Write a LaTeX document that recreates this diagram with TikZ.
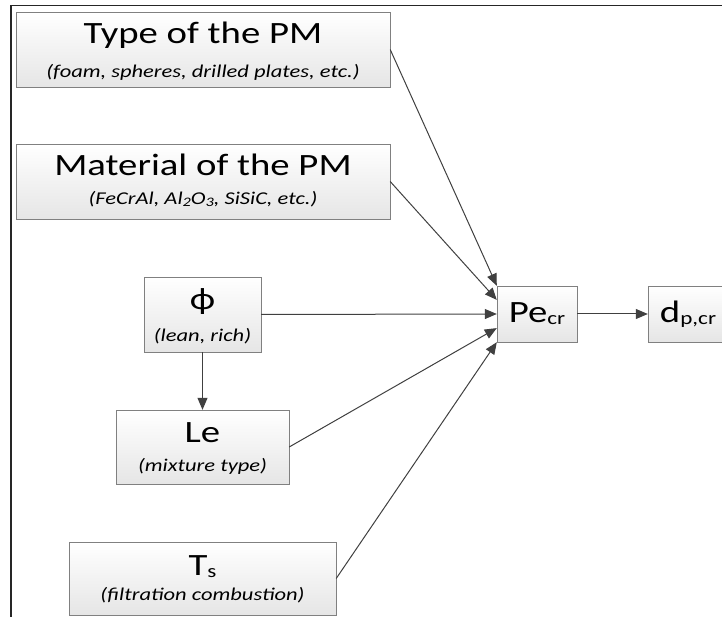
\documentclass[tikz,border=0pt]{standalone}
\usepackage{graphicx}
\usepackage{fontspec}
\setmainfont{Carlito}
\usetikzlibrary{calc}
\usetikzlibrary{arrows.meta}

\lineskiplimit=-100pt
\tikzset{
  box/.style={draw=black!50, top color=white, bottom color=black!10, inner sep=0pt,
    align=center, font=\fontsize{31}{#1}\selectfont},
  box/.default=34,
  link/.style={draw=black!75, line width=1pt, -{Triangle[length=12pt,width=10pt]}},
}
\newcommand\wide[1]{\scalebox{1.25}[1]{#1}}
\newcommand\subtxt[1]{\wide{\fontsize{18}{20}\selectfont\itshape #1}}
\newcommand\lowidx[1]{\raisebox{-2pt}{\fontsize{18.5}{20}\selectfont #1}}
\newcommand\chemidx[1]{\raisebox{-1.5pt}{\fontsize{13}{20}\selectfont #1}}

\begin{document}
\begin{tikzpicture}[x=1pt,y=1pt]
  % Constants
  \pgfmathsetmacro\w{722}
  \pgfmathsetmacro\h{617}
  % Boundary
  \path[use as bounding box] (0,0) rectangle (\w,\h);
  % Frame
  \draw[line width=1.5pt, black!85] (11,0) -- (11,\h-5.7) -- (\w,\h-5.7);
  % Boxes
  \node[box=34, minimum width=374pt, minimum height=75pt, text height=66pt, text depth=9pt]
    (type) at (203,567.5) {\wide{Type of the PM}\\\subtxt{(foam, spheres, drilled plates, etc.)}};
  \node[box=29, minimum width=374pt, minimum height=75pt, text height=61pt, text depth=14pt]
    (material) at (203,435.5) {\wide{Material of the PM}\\\subtxt{(FeCrAl, Al\chemidx{2}O\chemidx{3}, SiSiC, etc.)}};
  \node[box=32, minimum width=117pt, minimum height=75pt, text height=65pt, text depth=10pt]
    (phi) at (202.5,302.5) {\wide{ϕ}\\\subtxt{(lean, rich)}};
  \node[box=29, minimum width=173pt, minimum height=74pt, text height=62pt, text depth=12pt]
    (le) at (202.5,170) {\wide{Le}\\\subtxt{(mixture type)}};
  \node[box=25, minimum width=267pt, minimum height=73pt, text height=59pt, text depth=14pt]
    (ts) at (202.5,38.5) {\wide{T\lowidx{s}}\\\subtxt{(filtration combustion)}};
  \node[box, minimum width=80pt, minimum height=56pt] (pe) at (537,303) {\wide{Pe\lowidx{cr}}};
  \node[box, minimum width=80pt, minimum height=56pt] (dp) at (688,303) {\wide{d\lowidx{p,cr}}};
  % Arrows
  \draw[link] (type.east) -- (pe.north west);
  \draw[link] (material.east) -- ($(pe.north west)!0.25!(pe.south west)$);
  \draw[link] (phi.east) -- (pe.west);
  \draw[link] (le.east) -- ($(pe.north west)!0.75!(pe.south west)$);
  \draw[link] (ts.east) -- (pe.south west);
  \draw[link] (phi.south) -- (le.north);
  \draw[link] (pe.east) -- (dp.west);
\end{tikzpicture}
\end{document}
